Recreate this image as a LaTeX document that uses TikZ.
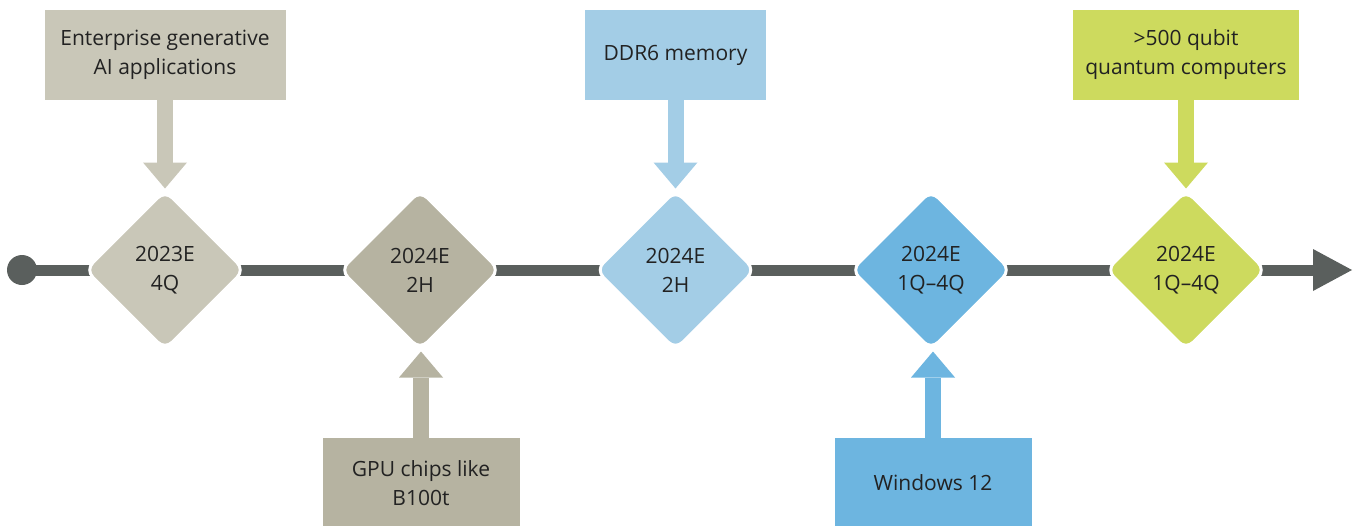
\documentclass[tikz,border=0pt]{standalone}
\usepackage{fontspec}
\setmainfont{Open Sans}
\usetikzlibrary{shapes.geometric,arrows.meta,backgrounds}

\definecolor{tanlight}{HTML}{C9C7B8}
\definecolor{tandark}{HTML}{B6B3A1}
\definecolor{bluelight}{HTML}{A3CDE6}
\definecolor{bluemid}{HTML}{6DB5E0}
\definecolor{lime}{HTML}{CDDA5E}
\definecolor{axisgrey}{HTML}{5A5F5D}
\definecolor{ink}{HTML}{222222}

\tikzset{
  milestone/.style={diamond, aspect=1, minimum width=160pt, minimum height=160pt,
    inner sep=0pt, rounded corners=10pt, draw=white, line width=3pt,
    align=center, text=ink, font=\fontsize{21}{29}\selectfont},
  callout/.style={rectangle, inner sep=0pt, minimum height=90pt,
    align=center, text=ink, font=\fontsize{21}{29}\selectfont},
  axisline/.style={axisgrey, line width=11pt,
    -{Triangle[length=39pt,width=42pt,line width=0pt]}},
  pointer/.style={line width=16pt,
    -{Triangle[length=26pt,width=44pt,line width=0pt]}}
}

\begin{document}
\begin{tikzpicture}[x=1pt,y=-1pt]
\useasboundingbox (0,0) rectangle (1359,525);

% start of the timeline and its end point
\node[circle, fill=axisgrey, inner sep=0pt, minimum size=30pt] (start) at (22,270) {};
\coordinate (finish) at (1352,270);

% milestones
\node[milestone, fill=tanlight]  (d1) at (165,270)   {2023E\\4Q};
\node[milestone, fill=tandark]   (d2) at (420,270)   {2024E\\2H};
\node[milestone, fill=bluelight] (d3) at (675.5,270) {2024E\\2H};
\node[milestone, fill=bluemid]   (d4) at (931,270)   {2024E\\1Q--4Q};
\node[milestone, fill=lime]      (d5) at (1186,270)  {2024E\\1Q--4Q};

% timeline axis behind the milestones
\begin{scope}[on background layer]
  \draw[axisline] (start.center) -- (d1.center) -- (d2.center) -- (d3.center)
    -- (d4.center) -- (d5.center) -- (finish);
\end{scope}

% labels above the axis
\node[callout, fill=tanlight, minimum width=241pt]  (b1) at (165,55)    {Enterprise generative\\AI applications};
\node[callout, fill=bluelight, minimum width=181pt] (b3) at (675.5,55)  {DDR6 memory};
\node[callout, fill=lime, minimum width=226pt]      (b5) at (1186,55)   {>500 qubit\\quantum computers};

% labels below the axis
\node[callout, fill=tandark, minimum width=197pt]   (b2) at (421,483)   {GPU chips like\\B100t};
\node[callout, fill=bluemid, minimum width=197pt]   (b4) at (933,483)   {Windows 12};

% pointers from labels to milestones
\draw[pointer, tanlight]  (b1.south) -- (b1.south |- d1.north);
\draw[pointer, bluelight] (b3.south) -- (b3.south |- d3.north);
\draw[pointer, lime]      (b5.south) -- (b5.south |- d5.north);
\draw[pointer, tandark]   (b2.north) -- (b2.north |- d2.south);
\draw[pointer, bluemid]   (b4.north) -- (b4.north |- d4.south);
\end{tikzpicture}
\end{document}
